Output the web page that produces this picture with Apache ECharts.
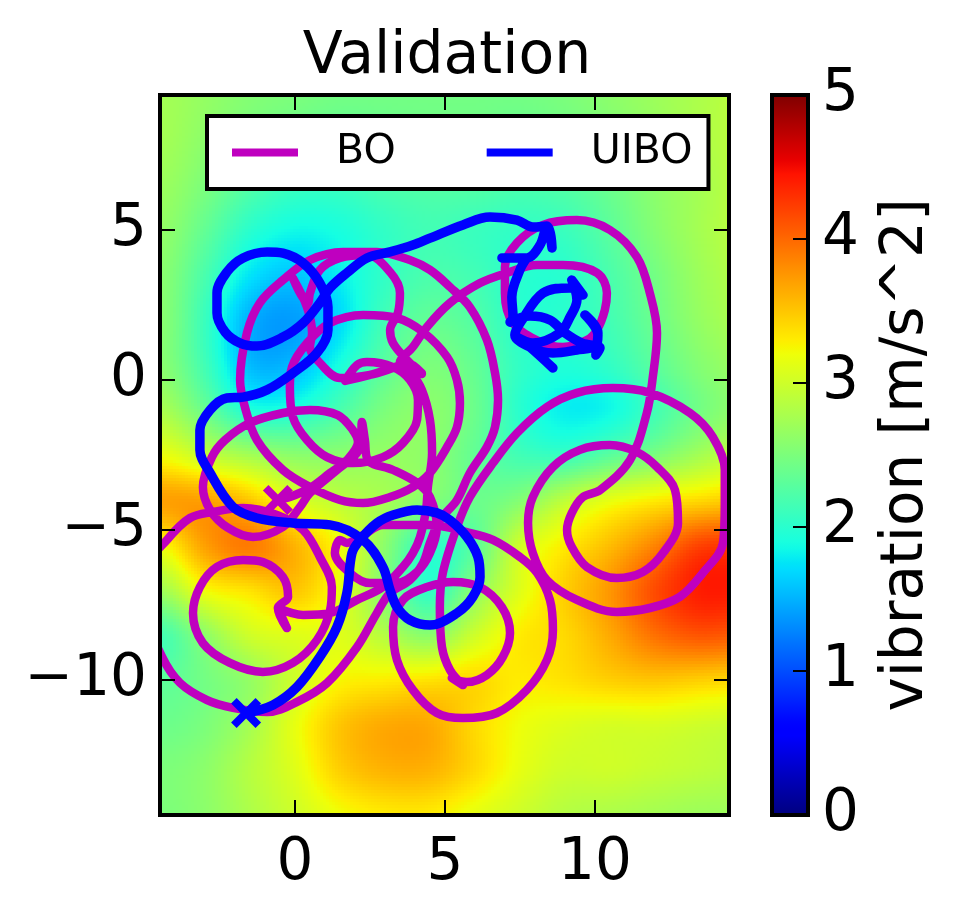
<!DOCTYPE html>
<html>
<head>
<meta charset="utf-8">
<script src="https://cdn.jsdelivr.net/npm/echarts@6/dist/echarts.min.js"></script>
<style>html,body{margin:0;padding:0;background:#fff}#c{width:963px;height:919px}</style>
</head>
<body>
<div id="c"></div>
<script>
const heatX = [-4.5,-3,-1.5,0,1.5,3,4.5,6,7.5,9,10.5,12,13.5,15];
const heatY = [9.5,8,6.5,5,3.5,2,0.5,-1,-2.5,-4,-5.5,-7,-8.5,-10,-11.5,-13,-14.5];
const heatRows = [
[2.75,2.65,2.55,2.5,2.45,2.45,2.45,2.45,2.45,2.5,2.6,2.7,2.8,2.9],
[2.75,2.6,2.45,2.35,2.3,2.35,2.4,2.4,2.35,2.4,2.5,2.65,2.8,2.9],
[2.7,2.5,2.25,2.1,2.1,2.2,2.25,2.25,2.2,2.25,2.4,2.6,2.75,2.9],
[2.65,2.35,2.0,1.85,1.9,2.05,2.15,2.1,2.05,2.1,2.3,2.55,2.75,2.9],
[2.6,2.2,1.75,1.6,1.8,2.05,2.2,2.15,2.0,2.0,2.2,2.45,2.7,2.85],
[2.6,2.1,1.5,1.4,1.7,2.15,2.35,2.25,2.0,2.0,2.15,2.4,2.65,2.8],
[2.6,2.15,1.55,1.55,1.9,2.3,2.5,2.35,2.05,1.95,2.05,2.3,2.55,2.7],
[2.8,2.4,1.95,1.95,2.2,2.5,2.6,2.4,2.0,1.8,1.85,2.15,2.45,2.65],
[3.2,2.95,2.75,2.6,2.6,2.65,2.6,2.35,2.15,2.1,2.3,2.5,2.75,2.95],
[3.7,3.7,3.5,3.1,2.9,2.75,2.55,2.4,2.55,2.9,3.15,3.3,3.4,3.5],
[3.2,3.7,3.9,3.6,3.2,2.6,2.05,2.3,3.0,3.3,3.55,3.85,4.2,4.25],
[2.7,3.2,3.35,3.5,3.15,2.55,2.05,2.6,3.1,3.45,3.75,4.15,4.4,4.4],
[2.15,2.6,3.0,3.1,3.1,2.85,2.6,3.0,3.3,3.4,3.65,3.95,4.1,4.05],
[2.3,2.45,2.65,3.0,3.25,3.3,3.35,3.4,3.3,3.35,3.45,3.5,3.45,3.4],
[2.4,2.5,2.75,3.15,3.5,3.65,3.65,3.4,3.2,3.1,3.05,3.05,3.0,2.95],
[2.5,2.6,2.85,3.1,3.45,3.6,3.6,3.4,3.15,3.0,3.0,2.95,2.9,2.85],
[2.5,2.6,2.8,3.0,3.2,3.3,3.3,3.15,3.0,2.85,2.8,2.75,2.7,2.7]
];
const boPath = [
[-0.57,-4],[-0.17,-3.9],[0.5,-3.6],[1.17,-3.1],[1.73,-2.67],[2.1,-2.07],[1.93,-1.67],[1.43,-1.17],[0.5,-1],[-0.4,-1.1],
[-1.5,-1.43],[-2.33,-2],[-2.77,-2.57],[-3.07,-3.57],[-2.83,-4.33],[-2.23,-4.93],[-1.4,-5.23],[-0.4,-4.9],[0.17,-4.23],[0.5,-3.77],
[1.4,-3],[2.07,-2.43],[2.2,-2],[2.23,-1.4],[2.33,-2],[2.43,-2.67],[3.27,-3],[4.07,-3.43],[4.5,-3.9],[4.73,-4.9],
[4.5,-5.77],[4.07,-6.4],[3.4,-6.77],[2.5,-6.77],[1.83,-6.43],[1.33,-5.77],[1.5,-5.33],[1.73,-5.43],[2.27,-5.17],[2.93,-4.83],
[4.5,-4.83],[5.73,-5.07],[6.6,-5.33],[7.5,-5.9],[8.07,-6.43],[8.5,-7.33],[8.6,-8.33],[8.4,-9.33],[7.73,-10.33],[6.73,-11.1],
[5.6,-11.27],[4.73,-11.1],[3.93,-10.33],[3.4,-9.33],[3.27,-8.23],[3.6,-7.33],[4.4,-6.9],[5.27,-6.73],[6.17,-6.9],[6.9,-7.57],
[7.17,-8.43],[6.93,-9.23],[6.4,-9.83],[5.73,-10.07],[5.23,-9.93],[5.6,-10.17],[5.17,-9.67],[4.9,-8.9],[4.83,-7.57],[4.93,-6.43],
[5.4,-4.9],[5.83,-3.9],[6.6,-2.77],[7.4,-1.77],[8.4,-0.9],[9.4,-0.43],[10.6,-0.27],[11.83,-0.43],[13.17,-1.1],[13.93,-1.9],
[14.33,-3],[14.33,-4.1],[14.27,-5.43],[13.6,-6.43],[12.83,-7.23],[11.83,-7.6],[10.73,-7.73],[9.4,-7.33],[8.4,-6.67],[7.93,-5.77],
[7.77,-4.77],[7.93,-3.9],[8.6,-2.9],[9.5,-2.33],[10.5,-2.17],[11.4,-2.4],[12.07,-2.9],[12.67,-3.67],[12.77,-4.77],[12.27,-5.77],
[11.6,-6.4],[10.73,-6.6],[9.73,-6.23],[9.23,-5.57],[9.07,-5],[9.23,-4.43],[9.6,-3.9],[10.17,-3.67],[11.17,-2.67],[11.73,-1.1],
[11.93,0.1],[12.07,1.57],[11.83,2.9],[11.4,4.1],[10.5,5],[9.4,5.33],[8.27,5.17],[7.4,4.57],[7,3.77],[7,2.9],
[7.27,1.9],[8.17,1.27],[8.93,1.1],[9.73,1.33],[10.07,1.67],[10.33,2.33],[10.4,2.9],[10.07,3.57],[8.93,3.83],[8.07,3.83],
[7.07,3.57],[6.17,3.23],[5.17,2.57],[4.4,1.77],[3.93,1.1],[3.5,0.6],[4.23,0.2],[3.73,0.67],[3.27,1.23],[3.17,1.67],
[3.43,2.23],[3.5,2.9],[3.17,3.6],[2.4,4.17],[1.5,4.07],[0.83,3.67],[0.5,2.9],[0.43,2.57],[-0.07,3.4],[0.4,2.43],
[0.57,1.57],[0.5,1.1],[0.83,0.57],[1.5,0.07],[2.5,0.17],[3.27,0.4],[3.73,0.57],[4.23,0.23],[3.73,0.5],[3.27,0.4],
[2.5,0.17],[1.67,-0.03],[2.07,0.5],[2.4,0.6],[3.27,0.43],[3.83,0],[4.1,-0.67],[4.07,-1.33],[3.6,-2.1],[2.93,-2.57],
[1.93,-2.77],[1.07,-2.57],[0.4,-2],[-0.07,-1.23],[-0.17,-0.23],[-0.1,0.43],[0.4,1.23],[1.17,1.9],[2.27,2.17],[3.4,2.07],
[4.27,1.6],[5.07,0.77],[5.4,0],[5.5,-0.77],[5.4,-1.57],[5.07,-2.23],[4.5,-3.1],[3.93,-3.57],[3.17,-3.9],[2.27,-4.1],
[1.5,-4],[0.5,-3.57],[-0.4,-3],[-1.27,-2],[-1.67,-0.9],[-1.83,0],[-1.6,1.57],[-1.17,2.57],[-0.4,3.33],[0.5,4],
[1.6,4.27],[2.73,4.27],[3.83,4],[4.5,3.67],[5.17,3.1],[5.83,2.43],[6.4,1.33],[6.67,0.23],[6.77,-0.67],[6.67,-1.57],
[6.4,-2.23],[5.83,-3.1],[5.4,-4],[4.83,-4.67],[4.5,-5.43],[4.27,-6.1],[3.83,-6.67],[3.17,-7.1],[2.73,-7.77],[2.07,-8.9],
[1.07,-10.1],[0.07,-10.73],[-0.93,-11.07],[-2.07,-10.93],[-2.93,-10.67],[-3.83,-10.1],[-4.43,-9.23],[-4.83,-8],[-4.83,-6.17],[-4.27,-5.33],
[-3.5,-4.6],[-2.73,-4.4],[-1.73,-4.27],[-0.6,-4.5],[0.27,-5],[0.83,-5.9],[1.23,-6.9],[1.17,-7.67],[0.73,-8.67],[-0.07,-9.43],
[-1.07,-9.73],[-2.17,-9.43],[-3.07,-8.77],[-3.4,-7.77],[-3.17,-6.9],[-2.6,-6.23],[-1.73,-6],[-1.07,-6.07],[-0.4,-6.57],[-0.23,-7.23],
[-0.57,-7.6],[-0.27,-8.27],[-0.57,-7.6],[0.27,-7.83],[1.17,-7.77],[2.07,-7.33],[2.93,-6.9],[3.6,-6.23],[3.93,-5.77],[4.17,-5.23],
[4.37,-4.33],[4.43,-3.57],[4.57,-2.43],[4.5,-1.33],[4.23,-0.33],[3.83,0.33]
];
const uiboPath = [
[-1.63,-11.1],[-0.73,-10.83],[0.07,-10.23],[0.83,-9.23],[1.4,-8.23],[1.73,-7.1],[1.9,-5.77],[2.17,-5.33],[2.73,-4.77],[3.27,-4.5],
[4.07,-4.33],[4.73,-4.43],[5.17,-4.67],[5.73,-5.23],[6.1,-5.9],[6.17,-6.57],[5.93,-7.23],[5.4,-7.77],[4.5,-8.17],[3.83,-8],
[3.4,-7.57],[3.17,-7],[2.93,-6.23],[2.27,-5.33],[1.17,-4.83],[-0.07,-4.77],[-1.27,-4.6],[-2.07,-4.23],[-2.83,-3.1],[-3.17,-2.33],
[-3.17,-1.67],[-2.83,-1],[-2.27,-0.6],[-1.73,-0.57],[-0.93,-0.33],[-0.07,0.23],[0.73,0.9],[1.1,1.67],[1.1,2.43],[0.83,3.23],
[0.27,3.9],[-0.4,4.23],[-0.93,4.27],[-1.73,4.07],[-2.27,3.6],[-2.6,2.9],[-2.6,2.23],[-2.33,1.6],[-1.83,1.23],[-1.27,1.13],
[-0.4,1.43],[0.27,1.9],[0.83,2.57],[1.17,3.07],[1.73,3.57],[2.4,4.07],[3.17,4.27],[3.93,4.5],[4.5,4.73],[5.6,5.17],
[6.5,5.43],[7.4,5.33],[7.93,5.1],[8.4,5.13],[8.57,4.4],[8.4,5.13],[8.17,4.5],[7.73,4.07],[6.9,4.07],[7.73,4.07],
[7.5,3.67],[7.23,2.77],[7.27,2.1],[7.17,1.93],[7.83,2.13],[8.5,2],[9,1.57],[9.57,1.23],[10.17,1.07],[10.03,0.83],
[10.1,1.57],[9.67,2.17],[10.1,1.5],[10.03,1.13],[9.4,1],[8.6,0.9],[7.83,1.1],[7.33,1.5],[7.57,2],[8.27,2.9],
[9.17,3.07],[9.6,2.83],[9.23,3.33],[9.4,2.67],[9.17,2.1],[8.83,1.57],[7.93,1.23],[7.4,1.43],[7.83,1.1],[8.6,0.4]
];
const boStart = [[-0.57,-4]];
const uiboStart = [[-1.63,-11.1]];
const xTicks = [0,5,10];
const yTicks = [-10,-5,0,5];
const barTicks = [0,1,2,3,4,5];
const seriesNames = ['BO','UIBO'];
const FONT = 'DejaVu Sans';

function lerpStops(stops,t){
  for(let i=1;i<stops.length;i++){
    if(t<=stops[i][0]){
      const a=stops[i-1],b=stops[i];
      return a[1]+(b[1]-a[1])*(t-a[0])/(b[0]-a[0]);
    }
  }
  return stops[stops.length-1][1];
}
const R=[[0,0],[.35,0],[.66,1],[.89,1],[1,.5]];
const G=[[0,0],[.125,0],[.375,1],[.64,1],[.91,0],[1,0]];
const B=[[0,.5],[.11,1],[.34,1],[.65,0],[1,0]];
function jet(v){
  const t=Math.max(0,Math.min(1,v/5));
  const c=s=>Math.round(255*lerpStops(s,t));
  return 'rgb('+c(R)+','+c(G)+','+c(B)+')';
}
const jetList=[];for(let i=0;i<=100;i++)jetList.push(jet(i/20));

function cr(a,b,c,d,t){
  return b+0.5*t*(c-a+t*(2*a-5*b+4*c-d+t*(3*(b-c)+d-a)));
}
function field(x,y){
  const dx=heatX[1]-heatX[0],dy=heatY[0]-heatY[1];
  const fx=(x-heatX[0])/dx,fy=(heatY[0]-y)/dy;
  const i=Math.floor(fx),j=Math.floor(fy),tx=fx-i,ty=fy-j;
  const col=k=>Math.max(0,Math.min(heatX.length-1,k));
  const row=k=>Math.max(0,Math.min(heatY.length-1,k));
  const rows=[];
  for(let m=-1;m<=2;m++){
    const r=heatRows[row(j+m)];
    rows.push(cr(r[col(i-1)],r[col(i)],r[col(i+1)],r[col(i+2)],tx));
  }
  return cr(rows[0],rows[1],rows[2],rows[3],ty);
}
const heatData=[];
heatRows.forEach((r,j)=>r.forEach((v,i)=>heatData.push([heatX[i],heatY[j],v])));

function renderHeat(params,api){
  const xc=api.value(0),yc=api.value(1);
  const n=15,half=0.75,st=2*half/n,children=[];
  for(let a=0;a<n;a++)for(let b=0;b<n;b++){
    const x0=xc-half+a*st,y0=yc+half-b*st;
    const p0=api.coord([x0,y0]),p1=api.coord([x0+st,y0-st]);
    const l=Math.round(p0[0]),t=Math.round(p0[1]);
    children.push({type:'rect',silent:true,
      shape:{x:l,y:t,width:Math.round(p1[0])-l+1,height:Math.round(p1[1])-t+1},
      style:{fill:jet(field(x0+st/2,y0-st/2)),stroke:null}});
  }
  return {type:'group',children};
}
const xPath='path://M3.7 0L10 6.3L16.3 0L20 3.7L13.7 10L20 16.3L16.3 20L10 13.7L3.7 20L0 16.3L6.3 10L0 3.7Z';
const line={show:true,onZero:false,lineStyle:{color:'#000',width:4,cap:'square'}};
const tick=(vals)=>({show:true,inside:true,length:15,customValues:vals,lineStyle:{color:'#000',width:2}});
const none={show:false};
const lab={fontFamily:FONT,fontSize:58,color:'#000'};
const minus=v=>String(v).replace('-','\u2212');

const option={
  animation:false,
  backgroundColor:'#fff',
  title:{text:'Validation',left:442,top:24,textAlign:'center',
    textStyle:{fontFamily:FONT,fontSize:58.4,fontWeight:'normal',color:'#000'}},
  legend:{data:seriesNames,left:207,top:116,orient:'horizontal',icon:'rect',itemWidth:66,itemHeight:8,itemGap:91,
    padding:[16,16,16,25],backgroundColor:'#fff',borderColor:'#000',borderWidth:4,borderRadius:0,z:20,selectedMode:false,
    textStyle:{fontFamily:FONT,fontSize:41,color:'#000',padding:[0,0,0,33]}},
  grid:[{left:160,top:95,width:569,height:720,containLabel:false},
        {left:772,top:95,width:36,height:720,containLabel:false}],
  graphic:[{type:'rect',silent:true,z:9,shape:{x:148,y:530,width:10,height:140},style:{fill:'#fff'}}],
  xAxis:[
    {type:'value',gridIndex:0,min:-4.5,max:14.47,position:'bottom',z:10,axisLine:line,axisTick:tick(xTicks),
     splitLine:none,axisLabel:{...lab,margin:20,customValues:xTicks,formatter:minus}},
    {type:'value',gridIndex:0,min:-4.5,max:14.47,position:'top',z:10,axisLine:line,axisTick:tick(xTicks),
     splitLine:none,axisLabel:none},
    {type:'value',gridIndex:1,min:0,max:1,position:'bottom',z:10,axisLine:line,axisTick:none,splitLine:none,axisLabel:none},
    {type:'value',gridIndex:1,min:0,max:1,position:'top',z:10,axisLine:line,axisTick:none,splitLine:none,axisLabel:none}
  ],
  yAxis:[
    {type:'value',gridIndex:0,min:-14.5,max:9.5,position:'left',z:10,axisLine:line,axisTick:tick(yTicks),
     splitLine:none,axisLabel:{...lab,margin:13,customValues:yTicks,formatter:minus}},
    {type:'value',gridIndex:0,min:-14.5,max:9.5,position:'right',z:10,axisLine:line,axisTick:tick(yTicks),
     splitLine:none,axisLabel:none},
    {type:'value',gridIndex:1,min:0,max:5,position:'left',z:10,axisLine:line,axisTick:none,splitLine:none,axisLabel:none},
    {type:'value',gridIndex:1,min:0,max:5,position:'right',z:10,axisLine:line,axisTick:tick(barTicks),splitLine:none,
     axisLabel:{...lab,margin:14,customValues:barTicks},
     name:'vibration [m/s^2]',nameLocation:'middle',nameRotate:90,nameGap:70,
     nameTextStyle:{fontFamily:FONT,fontSize:58,color:'#000'}}
  ],
  visualMap:{type:'continuous',show:true,min:0,max:5,dimension:2,seriesIndex:0,calculable:false,realtime:false,
    left:772,top:95,itemWidth:36,itemHeight:720,padding:0,showLabel:false,text:null,hoverLink:false,
    inRange:{color:jetList}},
  series:[
    {type:'custom',name:'vibration',xAxisIndex:0,yAxisIndex:0,data:heatData,renderItem:renderHeat,clip:true,silent:true,z:1,
     encode:{x:0,y:1},tooltip:{show:false}},
    {type:'line',name:'BO',xAxisIndex:0,yAxisIndex:0,data:boPath,smooth:0.35,showSymbol:false,symbol:'none',z:3,clip:true,silent:true,
     itemStyle:{color:'#bf00bf'},lineStyle:{color:'#bf00bf',width:8.5,cap:'round',join:'round'}},
    {type:'scatter',name:'BO start',xAxisIndex:0,yAxisIndex:0,data:boStart,symbol:xPath,symbolSize:30,z:3,silent:true,
     itemStyle:{color:'#bf00bf',opacity:1}},
    {type:'line',name:'UIBO',xAxisIndex:0,yAxisIndex:0,data:uiboPath,smooth:0.35,showSymbol:false,symbol:'none',z:4,clip:true,silent:true,
     itemStyle:{color:'#0000ff'},lineStyle:{color:'#0000ff',width:9.5,cap:'round',join:'round'}},
    {type:'scatter',name:'UIBO start',xAxisIndex:0,yAxisIndex:0,data:uiboStart,symbol:xPath,symbolSize:30,z:4,silent:true,
     itemStyle:{color:'#0000ff',opacity:1}}
  ]
};
const chart=echarts.init(document.getElementById('c'),null,{renderer:'canvas'});
chart.setOption(option);
</script>
</body>
</html>
